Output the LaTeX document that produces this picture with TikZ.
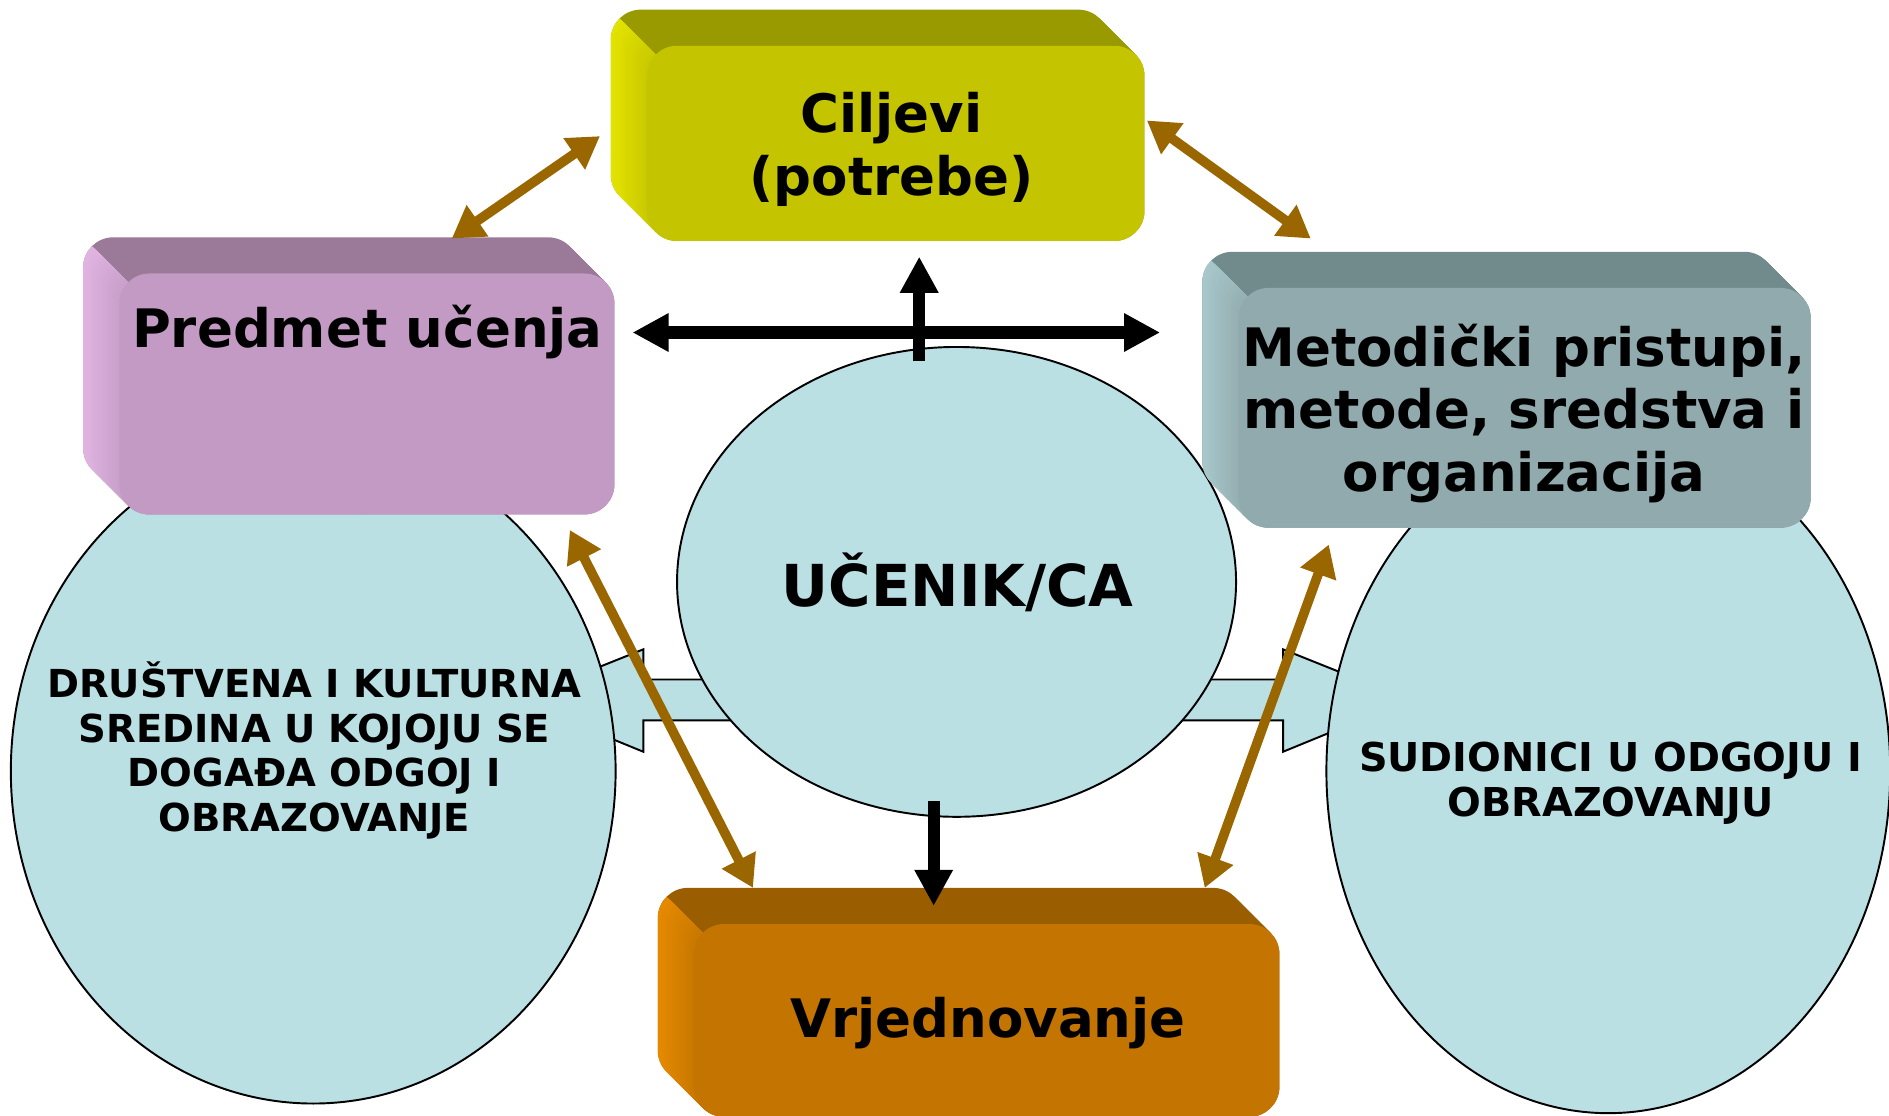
\documentclass[tikz,border=0pt]{standalone}
\usepackage{fontspec}
\setmainfont{DejaVu Sans}
\usetikzlibrary{arrows.meta,shapes.geometric}
\definecolor{ellfill}{HTML}{BAE0E4}
\definecolor{tanc}{HTML}{996600}
\definecolor{cilTop}{HTML}{999900}
\definecolor{cilLA}{HTML}{E4E400}
\definecolor{cilLB}{HTML}{C9C900}
\definecolor{cilFront}{HTML}{C5C400}
\definecolor{preTop}{HTML}{9A7A98}
\definecolor{preLA}{HTML}{E2B4E2}
\definecolor{preLB}{HTML}{C8A0CA}
\definecolor{preFront}{HTML}{C29AC4}
\definecolor{metTop}{HTML}{718A8C}
\definecolor{metLA}{HTML}{A8C8CC}
\definecolor{metLB}{HTML}{95AFB2}
\definecolor{metFront}{HTML}{91AAAE}
\definecolor{vrjTop}{HTML}{9A5E00}
\definecolor{vrjLA}{HTML}{E68A00}
\definecolor{vrjLB}{HTML}{C87800}
\definecolor{vrjFront}{HTML}{C47400}
% #1,#2 back top-left; #3 width; #4 height; #5 top colour; #6 left bright; #7 left dark; #8 front colour
\newcommand\threedbox[8]{%
  \foreach \k in {0,...,30} {\fill[#5, rounded corners=25pt] (#1+\k,#2+\k) rectangle ++(#3,#4);}
  \begin{scope}
    \clip (#1+7-2000,#2+7-2000) -- (#1+7+2000,#2+7+2000) -- (#1+7-2000,#2+7+2000) -- cycle;
    \foreach \k in {0,...,30} {\pgfmathtruncatemacro\p{100-100*\k/30}%
      \fill[#6!\p!#7, rounded corners=25pt] (#1+\k,#2+\k) rectangle ++(#3,#4);}
  \end{scope}
  \fill[#8, rounded corners=25pt] (#1+30,#2+30) rectangle ++(#3,#4);
}
\begin{document}
\begin{tikzpicture}[x=1pt,y=-1pt,
  ell/.style={ellipse, fill=ellfill, draw=black, line width=1.6pt, inner sep=0pt},
  boxtext/.style={font=\fontsize{44}{52}\selectfont\bfseries, align=center, inner sep=0pt},
  elltext/.style={font=\fontsize{32}{37}\selectfont\bfseries, align=center, inner sep=0pt},
  tanarrow/.style={draw=tanc, line width=8pt, {Triangle[length=26pt,width=30pt]}-{Triangle[length=26pt,width=30pt]}},
  blackdouble/.style={draw=black, line width=10pt, {Triangle[length=30pt,width=30pt]}-{Triangle[length=30pt,width=30pt]}},
  blacksingle/.style={draw=black, line width=10pt, -{Triangle[length=30pt,width=30pt]}},
  hollowarrow/.style={fill=ellfill, draw=black, line width=1.6pt, line join=miter}]
\useasboundingbox (0,0) rectangle (1568,926);
\fill[white] (0,0) rectangle (1568,926);

% wide double block arrow behind the ellipses
\path[hollowarrow] (429,581) -- (534,539) -- (534,564) -- (1065,564) -- (1065,539) -- (1170,581)
  -- (1065,624) -- (1065,598) -- (534,598) -- (534,624) -- cycle;

% ellipses
\node[ell, minimum width=502pt, minimum height=552pt] (leftell) at (260,640) {};
\node[ell, minimum width=468pt, minimum height=568pt] (rightell) at (1335,640) {};
\node[ell, minimum width=464pt, minimum height=390pt] (centell) at (794,483) {};

\node[elltext] (drustvo) at (261,623) {DRUŠTVENA I KULTURNA\\SREDINA U KOJOJU SE\\DOGAĐA ODGOJ I\\OBRAZOVANJE};
\node[elltext, font=\fontsize{33}{37}\selectfont\bfseries] (sudionici) at (1337,650) {SUDIONICI U ODGOJU I\\OBRAZOVANJU};
\node[font=\fontsize{48}{56}\selectfont\bfseries, inner sep=0pt] (ucenik) at (795,483) {UČENIK/CA};

% 3D boxes
\threedbox{507}{8}{413}{162}{cilTop}{cilLA}{cilLB}{cilFront}
\threedbox{69}{197}{411}{200}{preTop}{preLA}{preLB}{preFront}
\threedbox{998}{209}{475}{199}{metTop}{metLA}{metLB}{metFront}
\threedbox{546}{737}{486}{160}{vrjTop}{vrjLA}{vrjLB}{vrjFront}

\node[boxtext] (ciljevi) at (740,124) {Ciljevi\\(potrebe)};
\node[boxtext] (predmet) at (305,276) {Predmet učenja};
\node[boxtext] (metod) at (1265,343) {Metodički pristupi,\\metode, sredstva i\\organizacija};
\node[boxtext] (vrjed) at (820,849) {Vrjednovanje};

% connector end points
\coordinate (tlA) at (498,113);
\coordinate (tlB) at (375,198);
\coordinate (trA) at (952,100);
\coordinate (trB) at (1088,198);
\coordinate (ldA) at (473,440);
\coordinate (ldB) at (625,737);
\coordinate (rdA) at (1103,452);
\coordinate (rdB) at (1000,737);
\coordinate (hL) at (525,276);
\coordinate (hR) at (963,276);
\coordinate (up0) at (763,300);
\coordinate (up1) at (763,213);
\coordinate (dn0) at (775,665);
\coordinate (dn1) at (775,752);

% brown double arrows
\draw[tanarrow] (tlA) -- (tlB);
\draw[tanarrow] (trA) -- (trB);
\draw[tanarrow] (ldA) -- (ldB);
\draw[tanarrow] (rdA) -- (rdB);

% black arrows
\draw[blackdouble] (hL) -- (hR);
\draw[blacksingle] (up0) -- (up1);
\draw[blacksingle] (dn0) -- (dn1);
\end{tikzpicture}
\end{document}
